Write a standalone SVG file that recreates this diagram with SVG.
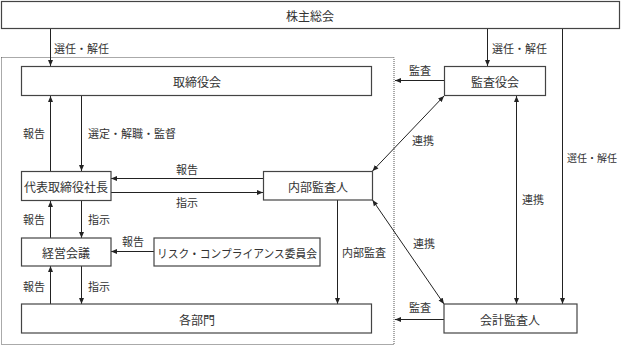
<svg xmlns="http://www.w3.org/2000/svg" width="621" height="346" viewBox="0 0 621 346">
<style>
.box{fill:#fff;stroke:#444;stroke-width:1.2}
.dot{fill:none;stroke:#555;stroke-width:1;stroke-dasharray:1 1}
.ln{fill:none;stroke:#222;stroke-width:1}
.nt{font-family:"Noto Sans CJK JP","Noto Sans CJK SC",sans-serif;font-size:12px;fill:#333;text-anchor:middle;dominant-baseline:central}
.lb{font-family:"Noto Sans CJK JP","Noto Sans CJK SC",sans-serif;font-size:11px;fill:#333;dominant-baseline:central}
.c{text-anchor:middle}
</style>
<defs>
<marker id="ah" viewBox="0 0 6 6" refX="6" refY="3" markerWidth="6" markerHeight="6" markerUnits="userSpaceOnUse" orient="auto-start-reverse">
<path d="M0,0.5 L6,3 L0,5.5 Z" fill="#222"/>
</marker>
</defs>
<rect class="dot" x="1.5" y="57.5" width="392.5" height="287"/>
<g id="connectors">
<line class="ln" x1="50.5" y1="28" x2="50.5" y2="66" marker-end="url(#ah)"/>
<line class="ln" x1="487.5" y1="28" x2="487.5" y2="66" marker-end="url(#ah)"/>
<line class="ln" x1="562.5" y1="28" x2="562.5" y2="304" marker-end="url(#ah)"/>
<line class="ln" x1="444" y1="80.5" x2="395" y2="80.5" marker-end="url(#ah)"/>
<line class="ln" x1="50.5" y1="171" x2="50.5" y2="96" marker-end="url(#ah)"/>
<line class="ln" x1="81.5" y1="96" x2="81.5" y2="171" marker-end="url(#ah)"/>
<line class="ln" x1="263" y1="178.5" x2="111" y2="178.5" marker-end="url(#ah)"/>
<line class="ln" x1="111" y1="192.5" x2="263" y2="192.5" marker-end="url(#ah)"/>
<line class="ln" x1="50.5" y1="238" x2="50.5" y2="201" marker-end="url(#ah)"/>
<line class="ln" x1="81.5" y1="201" x2="81.5" y2="238" marker-end="url(#ah)"/>
<line class="ln" x1="154" y1="251.5" x2="111" y2="251.5" marker-end="url(#ah)"/>
<line class="ln" x1="50.5" y1="304" x2="50.5" y2="266" marker-end="url(#ah)"/>
<line class="ln" x1="81.5" y1="266" x2="81.5" y2="304" marker-end="url(#ah)"/>
<line class="ln" x1="337.5" y1="200" x2="337.5" y2="304" marker-end="url(#ah)"/>
<line class="ln" x1="444" y1="96" x2="372.5" y2="171" marker-start="url(#ah)" marker-end="url(#ah)"/>
<line class="ln" x1="444" y1="304" x2="372.5" y2="200" marker-start="url(#ah)" marker-end="url(#ah)"/>
<line class="ln" x1="516.5" y1="96" x2="516.5" y2="304" marker-start="url(#ah)" marker-end="url(#ah)"/>
<line class="ln" x1="444" y1="319.5" x2="395" y2="319.5" marker-end="url(#ah)"/>
<text class="lb" x="54" y="48">選任・解任</text>
<text class="lb" x="492" y="48">選任・解任</text>
<text class="lb" x="567" y="157" style="font-size:10px" textLength="50" lengthAdjust="spacingAndGlyphs">選任・解任</text>
<text class="lb" x="409" y="70">監査</text>
<text class="lb" x="23" y="133">報告</text>
<text class="lb" x="88" y="133">選定・解職・監督</text>
<text class="lb c" x="187" y="169">報告</text>
<text class="lb c" x="187" y="202">指示</text>
<text class="lb" x="23" y="219">報告</text>
<text class="lb" x="88" y="219">指示</text>
<text class="lb c" x="133" y="241">報告</text>
<text class="lb" x="23" y="286">報告</text>
<text class="lb" x="88" y="286">指示</text>
<text class="lb" x="342" y="252">内部監査</text>
<text class="lb" x="412" y="140">連携</text>
<text class="lb" x="413" y="243">連携</text>
<text class="lb" x="522" y="199">連携</text>
<text class="lb" x="409" y="307">監査</text>
</g>
<g id="shareholders"><rect class="box" x="1.5" y="1.5" width="618" height="27"/><text class="nt" x="310" y="15">株主総会</text></g>
<g id="board"><rect class="box" x="21.5" y="66.5" width="350" height="29"/><text class="nt" x="197" y="81">取締役会</text></g>
<g id="auditboard"><rect class="box" x="444.5" y="66.5" width="101" height="29"/><text class="nt" x="495" y="81">監査役会</text></g>
<g id="president"><rect class="box" x="21.5" y="171.5" width="89.5" height="29"/><text class="nt" x="66" y="186">代表取締役社長</text></g>
<g id="internalaudit"><rect class="box" x="263.5" y="171.5" width="109" height="28.5"/><text class="nt" x="318" y="186">内部監査人</text></g>
<g id="management"><rect class="box" x="21.5" y="238" width="89.5" height="28"/><text class="nt" x="66" y="252">経営会議</text></g>
<g id="risk"><rect class="box" x="154" y="238" width="166" height="28"/><text class="nt" x="237" y="252" style="font-size:11.8px" textLength="160" lengthAdjust="spacingAndGlyphs">リスク・コンプライアンス委員会</text></g>
<g id="departments"><rect class="box" x="21.5" y="304" width="350" height="29"/><text class="nt" x="197" y="319">各部門</text></g>
<g id="accountingauditor"><rect class="box" x="444" y="304" width="133" height="29"/><text class="nt" x="510" y="319">会計監査人</text></g>
</svg>
